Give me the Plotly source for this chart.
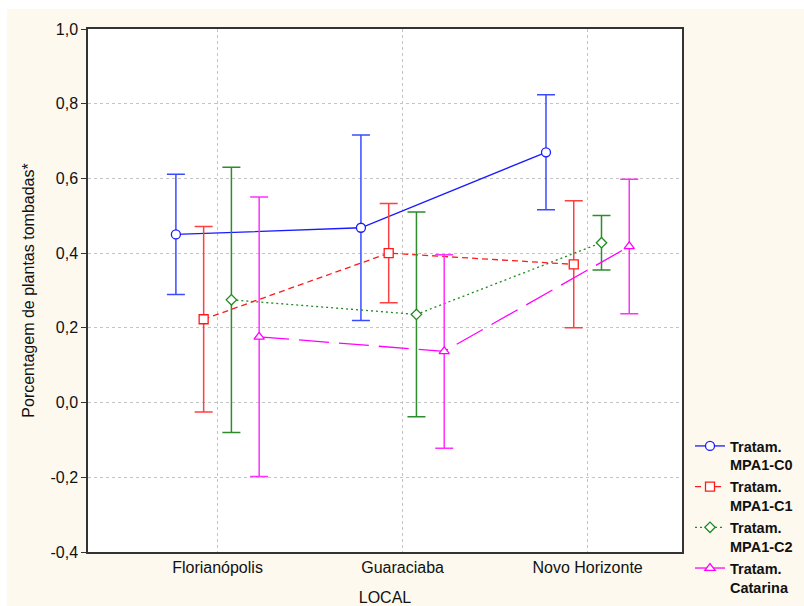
import plotly.graph_objects as go

# Sites (x categories) and tick labels
locais = ["Florianópolis", "Guaraciaba", "Novo Horizonte"]

# Treatment names (legend entries)
tratamentos = ["Tratam.<br>MPA1-C0", "Tratam.<br>MPA1-C1", "Tratam.<br>MPA1-C2", "Tratam.<br>Catarina"]

# Means per treatment, one value per site
media_c0 = [0.450, 0.468, 0.670]
media_c1 = [0.223, 0.400, 0.370]
media_c2 = [0.275, 0.236, 0.428]
media_cat = [0.176, 0.137, 0.418]

# Half-width of the error bars per treatment, one value per site
erro_c0 = [0.161, 0.248, 0.154]
erro_c1 = [0.248, 0.133, 0.170]
erro_c2 = [0.355, 0.274, 0.073]
erro_cat = [0.374, 0.259, 0.180]

# Y-axis ticks and their labels (comma decimals, plain hyphen minus)
y_ticks = [-0.4, -0.2, 0.0, 0.2, 0.4, 0.6, 0.8, 1.0]
y_tick_labels = ["-0,4", "-0,2", "0,0", "0,2", "0,4", "0,6", "0,8", "1,0"]

FONT = "Liberation Sans, Arial, sans-serif"

series = [
    (tratamentos[0], media_c0, erro_c0, "#1a1aff", "#3a4bff", "solid", "circle", 9, -0.225),
    (tratamentos[1], media_c1, erro_c1, "#ff1a1a", "#ff4040", "6px,4px", "square", 9, -0.075),
    (tratamentos[2], media_c2, erro_c2, "#1f8a1f", "#2e8b2e", "2px,3px", "diamond", 8, 0.075),
    (tratamentos[3], media_cat, erro_cat, "#ff00ff", "#ff30ff", "30px,10px", "triangle-up", 9, 0.225),
]

fig = go.Figure()
for nome, medias, erros, cor, cor_erro, dash, simbolo, tam, desloc in series:
    xs = [i + desloc for i in range(len(locais))]
    fig.add_trace(go.Scatter(
        x=xs, y=medias, name=nome, mode="lines+markers",
        line=dict(color=cor, width=1.3, dash=dash),
        marker=dict(symbol=simbolo, size=tam, color="white",
                    line=dict(color=cor, width=1.3)),
        error_y=dict(type="data", array=erros, visible=True,
                     color=cor_erro, thickness=1.5, width=9),
    ))

# Thin white strips along the top and left edges of the cream page
fig.add_shape(type="rect", xref="paper", yref="paper",
              x0=-88 / 594, x1=1 + 122 / 594, y0=1 + 20 / 523, y1=1 + 29 / 523,
              fillcolor="white", line=dict(width=0), layer="below")
fig.add_shape(type="rect", xref="paper", yref="paper",
              x0=-88 / 594, x1=-81 / 594, y0=-54 / 523, y1=1 + 29 / 523,
              fillcolor="white", line=dict(width=0), layer="below")

fig.update_layout(
    width=804, height=606,
    margin=dict(l=88, r=122, t=29, b=54),
    paper_bgcolor="#fdf9ee", plot_bgcolor="white",
    font=dict(family=FONT, size=16, color="#111111"),
    showlegend=True,
    legend=dict(
        xref="container", yref="container", x=690 / 804, y=1 - 430 / 606,
        xanchor="left", yanchor="top", valign="top",
        font=dict(family=FONT, size=14.5, color="#111111", weight="bold"),
        bgcolor="rgba(0,0,0,0)", tracegroupgap=0, itemwidth=30,
    ),
    xaxis=dict(
        range=[-0.70, 2.51], tickmode="array", tickvals=list(range(len(locais))),
        ticktext=locais, showgrid=True, gridcolor="#c4c4c4", griddash="dot",
        gridwidth=1, zeroline=False, showline=True, linecolor="#333333",
        linewidth=1.5, mirror=True, ticks="", tickfont=dict(size=16),
        automargin=False,
        title=dict(text="LOCAL", font=dict(size=16), standoff=18),
    ),
    yaxis=dict(
        range=[-0.4, 1.0], tickmode="array", tickvals=y_ticks, ticktext=y_tick_labels,
        showgrid=True, gridcolor="#c4c4c4", griddash="dot", gridwidth=1,
        zeroline=False, showline=True, linecolor="#333333", linewidth=1.5,
        mirror=True, ticks="outside", ticklen=5, tickcolor="#333333",
        tickfont=dict(size=16), automargin=False,
        title=dict(text="Porcentagem de plantas tombadas*", font=dict(size=16), standoff=12),
    ),
)

fig.write_html("out.html")
